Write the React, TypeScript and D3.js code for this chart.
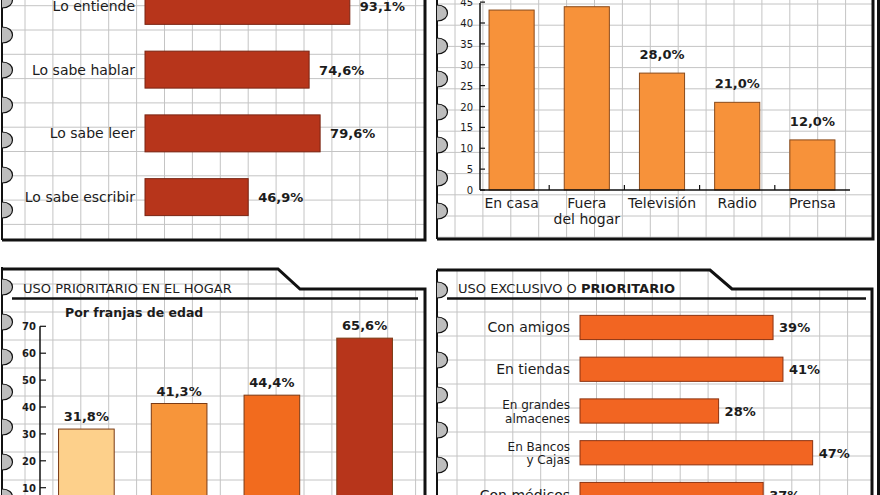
import React from "react";
import * as d3 from "d3";

const W = 880;
const H = 495;
const FONT = "'DejaVu Sans', Verdana, sans-serif";
const INK = "#1c1c1c";
const GRID = "#c4c4c4";

// conocimiento del idioma
const skills = ["Lo entiende", "Lo sabe hablar", "Lo sabe leer", "Lo sabe escribir"];
const skillValues = [93.1, 74.6, 79.6, 46.9];

// donde se usa
const places = [["En casa"], ["Fuera", "del hogar"], ["Televisión"], ["Radio"], ["Prensa"]];
const placeValues = [43.1, 43.9, 28.0, 21.0, 12.0];
const placeTicks = [0, 5, 10, 15, 20, 25, 30, 35, 40, 45];

// uso prioritario en el hogar, por franjas de edad
const ageGroups = ["f1", "f2", "f3", "f4"];
const homeValues = [31.8, 41.3, 44.4, 65.6];
const homeColors = ["#fdd08b", "#f7953a", "#f26b1e", "#b7351b"];
const homeTicks = [10, 20, 30, 40, 50, 60, 70];

// uso exclusivo o prioritario
const uses = [["Con amigos"], ["En tiendas"], ["En grandes", "almacenes"], ["En Bancos", "y Cajas"], ["Con médicos"]];
const useValues = [39, 41, 28, 47, 37];

const pct1 = (v: number) => v.toFixed(1).replace(".", ",") + "%";
const pct0 = (v: number) => v.toFixed(0) + "%";

// papel cuadriculado
function Grid({ id, clip, x0, x1, dx, y0, y1, dy }: any) {
  const xs = d3.range(x0, x1, dx);
  const ys = d3.range(y0, y1, dy);
  return (
    <g>
      <clipPath id={id}>
        <path d={clip} />
      </clipPath>
      <g clipPath={`url(#${id})`} stroke={GRID} strokeWidth={1}>
        {xs.map((x, i) => (
          <line key={"v" + i} x1={x} x2={x} y1={-10} y2={H + 10} />
        ))}
        {ys.map((y, i) => (
          <line key={"h" + i} x1={0} x2={W} y1={y} y2={y} />
        ))}
      </g>
    </g>
  );
}

// anillas de la libreta
function Rings({ x, y0, y1, step }: any) {
  const ys = d3.range(y0, y1, step);
  return (
    <g>
      <line x1={x} x2={x} y1={Math.max(-5, y0 - 20)} y2={y1} stroke="#111" strokeWidth={2} />
      {ys.map((y, i) => (
        <path
          key={i}
          d={`M${x},${y - 8} C${x + 14},${y - 8} ${x + 14},${y + 8} ${x},${y + 8}`}
          fill="#bdbdbd"
          stroke="#111"
          strokeWidth={1.2}
        />
      ))}
    </g>
  );
}

function SkillsPanel() {
  const x = d3.scaleLinear().domain([0, 100]).range([145, 365]);
  const y = d3.scaleBand<string>().domain(skills).range([-26, 229]).paddingInner(0.42).paddingOuter(0.21);
  return (
    <g>
      <Grid id="c1" clip="M2,-10 H425 V240 H2 Z" x0={25} x1={425} dx={27.9} y0={5.7} y1={240} dy={24.3} />
      {skills.map((s, i) => {
        const yc = (y(s) ?? 0) + y.bandwidth() / 2;
        return (
          <g key={s}>
            <rect x={x(0)} y={y(s)} width={x(skillValues[i]) - x(0)} height={y.bandwidth()} fill="#b7351b" stroke="#7a2412" strokeWidth={1} />
            <text x={135} y={yc + 5} textAnchor="end" fontSize={14} fill={INK}>{s}</text>
            <text x={x(skillValues[i]) + 10} y={yc + 5} fontSize={13} fontWeight="bold" fill={INK}>{pct1(skillValues[i])}</text>
          </g>
        );
      })}
      <path d="M425,-5 V240 H2" fill="none" stroke="#111" strokeWidth={3} />
      <Rings x={2} y0={0} y1={240} step={35} />
    </g>
  );
}

function PlacesPanel() {
  const keys = places.map((p) => p.join(" "));
  const x = d3.scaleBand<string>().domain(keys).range([474, 850]).paddingInner(0.4).paddingOuter(0.2);
  const y = d3.scaleLinear().domain([0, 40]).range([190, 23]);
  const bounds = keys.slice(1).map((k) => (x(k) ?? 0) - (x.step() - x.bandwidth()) / 2);
  return (
    <g>
      <Grid id="c2" clip="M437,-10 H873 V239 H437 Z" x0={455} x1={873} dx={27.9} y0={4} y1={239} dy={21.2} />
      {placeTicks.map((t) => (
        <g key={t}>
          <line x1={480} x2={485} y1={y(t)} y2={y(t)} stroke="#111" strokeWidth={1.2} />
          <text x={473} y={y(t) + 4} textAnchor="end" fontSize={10} fill={INK}>{t}</text>
        </g>
      ))}
      {keys.map((k, i) => {
        const xc = (x(k) ?? 0) + x.bandwidth() / 2;
        return (
          <g key={k}>
            <rect x={x(k)} y={y(placeValues[i])} width={x.bandwidth()} height={y(0) - y(placeValues[i])} fill="#f7923a" stroke="#8a4a1a" strokeWidth={1} />
            <text x={xc} y={y(placeValues[i]) - 14} textAnchor="middle" fontSize={13} fontWeight="bold" fill={INK}>{pct1(placeValues[i])}</text>
            {places[i].map((line, j) => (
              <text key={j} x={xc} y={208 + j * 16} textAnchor="middle" fontSize={14} fill={INK}>{line}</text>
            ))}
          </g>
        );
      })}
      <line x1={480} x2={480} y1={3} y2={190} stroke="#111" strokeWidth={1.5} />
      <line x1={480} x2={850} y1={190} y2={190} stroke="#111" strokeWidth={1.5} />
      {bounds.map((b, i) => (
        <line key={i} x1={b} x2={b} y1={190} y2={185} stroke="#111" strokeWidth={1.2} />
      ))}
      <path d="M873,-5 V239 H437" fill="none" stroke="#111" strokeWidth={3} />
      <line x1={878.5} x2={878.5} y1={-5} y2={H + 5} stroke="#111" strokeWidth={3} />
      <Rings x={437} y0={13} y1={239} step={33} />
    </g>
  );
}

function HomePanel() {
  const x = d3.scaleBand<string>().domain(ageGroups).range([40, 411]).paddingInner(0.4).paddingOuter(0.2);
  const y = d3.scaleLinear().domain([0, 70]).range([514.6, 326.3]);
  return (
    <g>
      <Grid id="c3" clip="M2,269 H278 L300,289 H425 V500 H2 Z" x0={25} x1={425} dx={27.9} y0={284} y1={500} dy={28} />
      <path d="M2,269 H278 L300,289 H425 V500" fill="none" stroke="#111" strokeWidth={3} />
      <text x={23} y={293} fontSize={13} fill={INK}>USO PRIORITARIO EN EL HOGAR</text>
      <line x1={12} x2={418} y1={298.5} y2={298.5} stroke="#111" strokeWidth={2.5} />
      <text x={65} y={317} fontSize={12.5} fontWeight="bold" fill={INK}>Por franjas de edad</text>
      {homeTicks.map((t) => (
        <g key={t}>
          <line x1={40} x2={46} y1={y(t)} y2={y(t)} stroke="#111" strokeWidth={1.2} />
          <text x={36} y={y(t) + 4} textAnchor="end" fontSize={10} fontWeight="bold" fill={INK}>{t}</text>
        </g>
      ))}
      <line x1={40} x2={40} y1={y(70)} y2={H + 5} stroke="#111" strokeWidth={1.5} />
      {ageGroups.map((g, i) => (
        <g key={g}>
          <rect x={x(g)} y={y(homeValues[i])} width={x.bandwidth()} height={y(0) - y(homeValues[i])} fill={homeColors[i]} stroke="#7a3a14" strokeWidth={1} />
          <text x={(x(g) ?? 0) + x.bandwidth() / 2} y={y(homeValues[i]) - 8} textAnchor="middle" fontSize={13} fontWeight="bold" fill={INK}>{pct1(homeValues[i])}</text>
        </g>
      ))}
      <Rings x={2} y0={287} y1={500} step={35} />
    </g>
  );
}

function UsesPanel() {
  const keys = uses.map((u) => u.join(" "));
  const x = d3.scaleLinear().domain([0, 100]).range([580, 1075]);
  const y = d3.scaleBand<string>().domain(keys).range([306.6, 515.4]).paddingInner(0.42).paddingOuter(0.21);
  return (
    <g>
      <Grid id="c4" clip="M437,270 H710 L732,289 H872 V500 H437 Z" x0={457} x1={873} dx={27.9} y0={312} y1={500} dy={24} />
      <path d="M437,270 H710 L732,289 H872 V500" fill="none" stroke="#111" strokeWidth={3} />
      <text x={458} y={293} fontSize={13} fill={INK}>
        USO EXCLUSIVO O <tspan fontWeight="bold">PRIORITARIO</tspan>
      </text>
      <line x1={447} x2={866} y1={298.5} y2={298.5} stroke="#111" strokeWidth={2.5} />
      {keys.map((k, i) => {
        const yc = (y(k) ?? 0) + y.bandwidth() / 2;
        const lines = uses[i];
        return (
          <g key={k}>
            <rect x={x(0)} y={y(k)} width={x(useValues[i]) - x(0)} height={y.bandwidth()} fill="#f26522" stroke="#8a3210" strokeWidth={1} />
            {lines.map((line, j) => (
              <text key={j} x={570} y={lines.length > 1 ? yc - 2 + j * 13.5 : yc + 5} textAnchor="end" fontSize={lines.length > 1 ? 12 : 14} fill={INK}>{line}</text>
            ))}
            <text x={x(useValues[i]) + 6} y={yc + 5} fontSize={13} fontWeight="bold" fill={INK}>{pct0(useValues[i])}</text>
          </g>
        );
      })}
      <Rings x={437} y0={290} y1={500} step={35} />
    </g>
  );
}

export default function App() {
  return (
    <svg width={W} height={H} fontFamily={FONT} style={{ position: "absolute", left: 0, top: 0, background: "#fff" }}>
      <rect width={W} height={H} fill="#fff" />
      <SkillsPanel />
      <PlacesPanel />
      <HomePanel />
      <UsesPanel />
    </svg>
  );
}
